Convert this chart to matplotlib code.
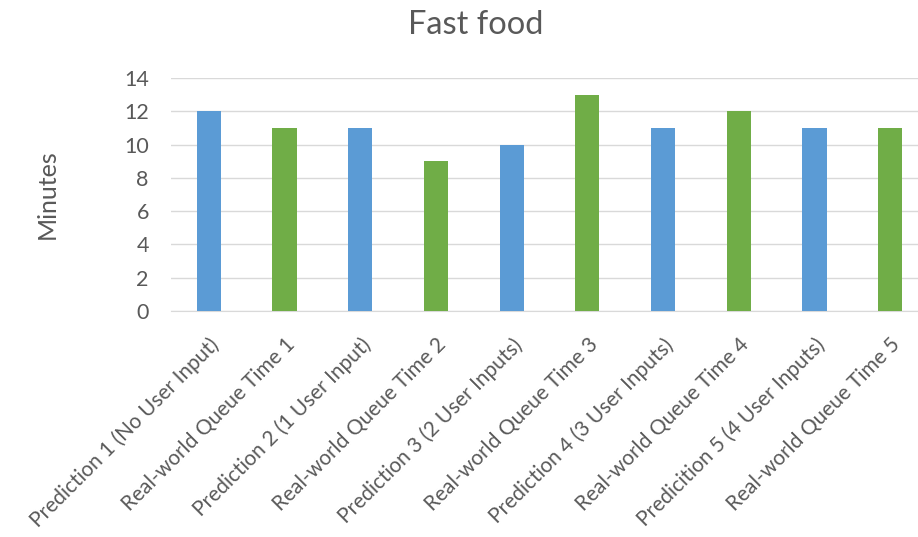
import matplotlib.pyplot as plt
import numpy as np

# 카테고리 및 값
categories = [
    'Prediction 1 (No User Input)',
    'Real-world Queue Time 1',
    'Prediction 2 (1 User Input)',
    'Real-world Queue Time 2',
    'Prediction 3 (2 User Inputs)',
    'Real-world Queue Time 3',
    'Prediction 4 (3 User Inputs)',
    'Real-world Queue Time 4',
    'Predicition 5 (4 User Inputs)',
    'Real-world Queue Time 5',
]
minutes = [12, 11, 11, 9, 10, 13, 11, 12, 11, 11]
y_ticks = [0, 2, 4, 6, 8, 10, 12, 14]

blue = '#5B9BD5'
green = '#70AD47'
text_color = '#595959'

plt.rcParams['font.family'] = ['Lato', 'DejaVu Sans']

fig = plt.figure(figsize=(9.18, 5.37), dpi=100)
# 오른쪽이 잘린 원본처럼 축이 그림 밖으로 조금 나감
ax = fig.add_axes([171 / 918, 1 - 311 / 537, 757 / 918, 233 / 537])

x = np.arange(len(categories))
colors = [blue if i % 2 == 0 else green for i in range(len(categories))]
ax.bar(x, minutes, width=0.32, color=colors, zorder=3)

ax.set_xlim(-0.5, len(categories) - 0.5)
ax.set_ylim(0, 14)
ax.set_yticks(y_ticks)
ax.yaxis.grid(True, color='#D9D9D9', linewidth=1, zorder=0)
for s in ['top', 'right', 'left']:
    ax.spines[s].set_visible(False)
ax.spines['bottom'].set_color('#D9D9D9')
ax.tick_params(axis='y', length=0, colors=text_color, labelsize=15.5, pad=16)
ax.tick_params(axis='x', length=0, colors=text_color, labelsize=15, pad=17)

ax.set_xticks(x)
ax.set_xticklabels(categories, rotation=45, ha='right', rotation_mode='anchor')

ax.set_ylabel('Minutes', color=text_color, fontsize=18, ha='center', va='center')
ax.yaxis.set_label_coords((47 - 171) / 757, 0.5)
fig.text(476 / 918, 1 - 25 / 537, 'Fast food', ha='center', va='center',
         fontsize=23.5, color=text_color)

plt.savefig('out.png', dpi=100)
